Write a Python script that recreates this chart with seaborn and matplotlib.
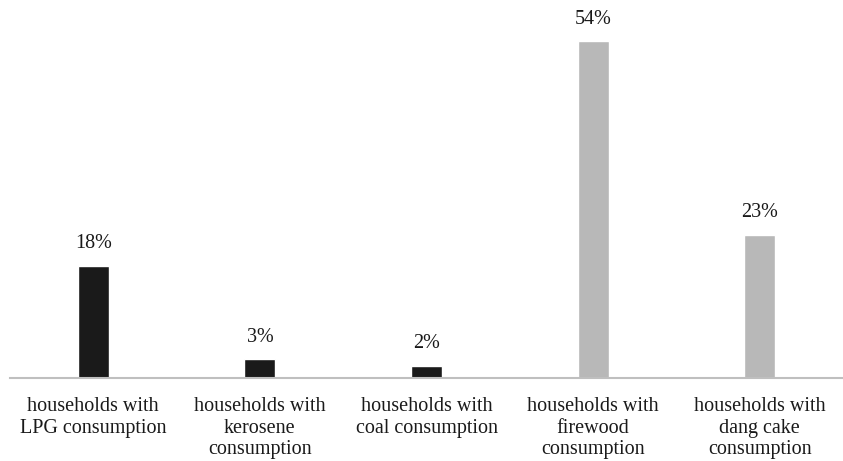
import matplotlib
matplotlib.use("Agg")
import matplotlib.pyplot as plt
import seaborn as sns
import pandas as pd

categories = [
    "households with\nLPG consumption",
    "households with\nkerosene\nconsumption",
    "households with\ncoal consumption",
    "households with\nfirewood\nconsumption",
    "households with\ndang cake\nconsumption",
]
values = [18, 3, 2, 54, 23]
labels = ["18%", "3%", "2%", "54%", "23%"]
colors = ["#1a1a1a", "#1a1a1a", "#1a1a1a", "#b8b8b8", "#b8b8b8"]

sns.set_theme(style="white")
plt.rcParams["font.family"] = ["Liberation Serif", "DejaVu Serif"]

df = pd.DataFrame({"cat": categories, "val": values})

fig = plt.figure(figsize=(8.43, 4.61), dpi=100)
ax = fig.add_axes([10 / 843, 1 - 378 / 461, 833 / 843, 378 / 461])
sns.barplot(data=df, x="cat", y="val", hue="cat", palette=colors,
            width=0.186, legend=False, ax=ax, saturation=1)

ax.set_ylim(0, 60.6)
ax.set_xlim(-0.5, 4.5)
for i, (v, t) in enumerate(zip(values, labels)):
    ax.annotate(t, (i, v), xytext=(0, 9), textcoords="offset points",
                ha="center", va="bottom", fontsize=14.5, color="#1a1a1a")

for s in ["top", "right", "left"]:
    ax.spines[s].set_visible(False)
ax.spines["bottom"].set_color("#bfbfbf")
ax.spines["bottom"].set_linewidth(1.5)
ax.set_yticks([])
ax.set_xlabel("")
ax.set_ylabel("")
ax.tick_params(axis="x", length=0, pad=13.5, labelsize=14.5, colors="#1a1a1a")
for lab in ax.get_xticklabels():
    lab.set_linespacing(1.2)
    lab.set_verticalalignment("top")

fig.savefig("out.png", dpi=100)
